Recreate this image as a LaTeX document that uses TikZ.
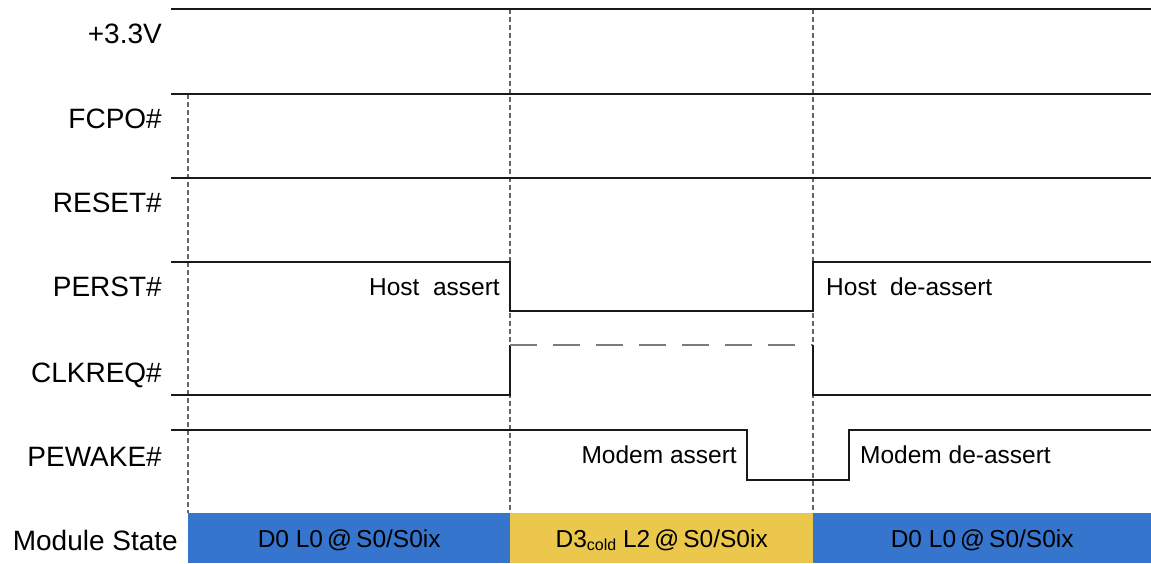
\documentclass[tikz,border=0pt]{standalone}
\usepackage{fontspec}
\setmainfont{Liberation Sans}
\definecolor{stblue}{RGB}{53,117,205}
\definecolor{styellow}{RGB}{235,200,75}
\definecolor{guidegray}{RGB}{100,100,100}
\definecolor{sigcol}{RGB}{25,25,25}
\begin{document}
\begin{tikzpicture}[x=1pt,y=-1pt,
  sig/.style={draw=sigcol, line width=1.4pt},
  guide/.style={draw=guidegray, line width=1.2pt, dash pattern=on 5pt off 3pt},
  floatline/.style={draw=guidegray!85, line width=1.4pt, dash pattern=on 27pt off 16pt},
  lab/.style={anchor=base east, inner sep=0pt, font=\fontsize{28}{30}\selectfont},
  note/.style={inner sep=0pt, font=\fontsize{24.5}{26}\selectfont},
  statebar/.style={anchor=north west, inner sep=0pt, minimum height=50pt,
    text height=21pt, text depth=2pt, font=\fontsize{24.5}{26}\selectfont}]
\useasboundingbox (0,0) rectangle (1151,563);

% state bars
\node[statebar, fill=stblue, minimum width=322pt] (st1) at (188,513) {D0 L0\,@\,S0/S0ix};
\node[statebar, fill=styellow, minimum width=303pt] (st2) at (510,513) {D3{\fontsize{16}{17}\selectfont\raisebox{-3pt}{cold}} L2\,@\,S0/S0ix};
\node[statebar, fill=stblue, minimum width=338pt] (st3) at (813,513) {D0 L0\,@\,S0/S0ix};

% guide lines
\coordinate (g1t) at (188,94);  \coordinate (g1b) at (188,513);
\coordinate (g2t) at (510,9);   \coordinate (g2b) at (510,513);
\coordinate (g3t) at (813,9);   \coordinate (g3b) at (813,513);
\draw[guide] (g1t) -- (g1b);
\draw[guide] (g2t) -- (g2b);
\draw[guide] (g3t) -- (g3b);

% labels
\node[lab] (l1) at (162,43)  {+3.3V};
\node[lab] (l2) at (162,128) {FCPO\#};
\node[lab] (l3) at (162,212) {RESET\#};
\node[lab] (l4) at (162,296) {PERST\#};
\node[lab] (l5) at (162,382) {CLKREQ\#};
\node[lab] (l6) at (162,466) {PEWAKE\#};
\node[lab] (l7) at (178,550) {Module State};

% signals
\draw[sig] (171,9) -- (1151,9);
\draw[sig] (171,94) -- (1151,94);
\draw[sig] (171,178) -- (1151,178);
\draw[sig] (171,262) -- (510,262) -- (510,311) -- (813,311) -- (813,262) -- (1151,262);
\draw[sig] (171,395) -- (510,395) -- (510,345);
\draw[floatline] (510,345) -- (813,345);
\draw[sig] (813,345) -- (813,395) -- (1151,395);
\draw[sig] (171,430) -- (747,430) -- (747,480) -- (849,480) -- (849,430) -- (1151,430);

% annotations
\node[note, anchor=base east] (n1) at (500,295) {Host\ \ assert};
\node[note, anchor=base west] (n2) at (826,295) {Host\ \ de-assert};
\node[note, anchor=base east] (n3) at (737,463) {Modem assert};
\node[note, anchor=base west] (n4) at (860,463) {Modem de-assert};
\end{tikzpicture}
\end{document}
